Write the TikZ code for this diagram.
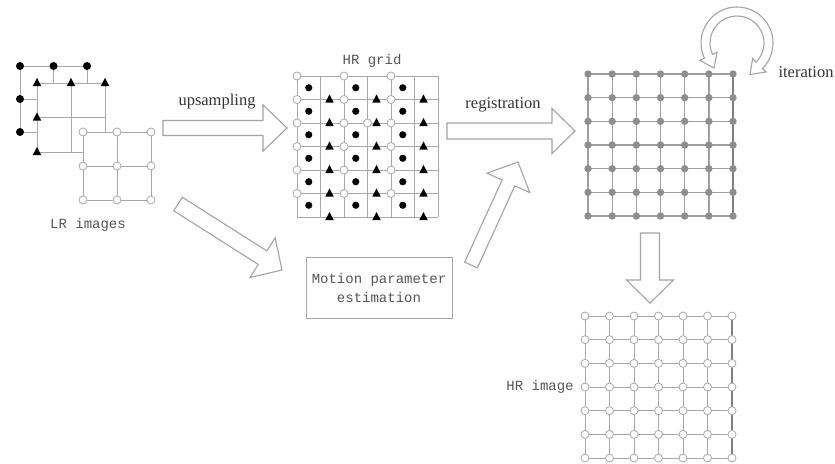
\documentclass[tikz,border=0pt]{standalone}
\usepackage{fontspec}
\setmainfont{Liberation Serif}
\newfontfamily\monofont{Liberation Mono}
\usetikzlibrary{calc}
\definecolor{gridgray}{HTML}{A8A8A8}
\definecolor{arrowgray}{HTML}{A4A4A4}
\definecolor{dotgray}{HTML}{8E8E8E}
\definecolor{rgline}{HTML}{A0A0A0}
\definecolor{txt}{HTML}{333333}
\definecolor{monotxt}{HTML}{555555}

\newcommand\sqgrid[6]{% x0,y0,n,dx,dy,style
  \fill[white] (#1,#2) rectangle ++(#3*#4,#3*#5);
  \foreach \gi in {0,...,#3}{%
    \draw[#6] (#1+\gi*#4,#2) -- ++(0,#3*#5);
    \draw[#6] (#1,#2+\gi*#5) -- ++(#3*#4,0);
  }}

\newcommand\fatarrow[5]{% tail, tip, body half, head half, head length
  \pgfpointdiff{\pgfpointanchor{#1}{center}}{\pgfpointanchor{#2}{center}}%
  \pgfgetlastxy{\fdx}{\fdy}%
  \pgfmathsetmacro\flen{veclen(\fdx,\fdy)}%
  \pgfmathsetmacro\fang{atan2(\fdy,\fdx)}%
  \pgfmathsetmacro\fneck{\flen-#5}%
  \begin{scope}[shift={(#1)},rotate=\fang,x=1pt,y=1pt]
    \draw[fatarrow] (0,-#3) -- (\fneck,-#3) -- (\fneck,-#4) -- (\flen,0)
      -- (\fneck,#4) -- (\fneck,#3) -- (0,#3) -- cycle;
  \end{scope}}

\begin{document}
\begin{tikzpicture}[x=1pt,y=-1pt,
  gridline/.style={draw=gridgray,line width=0.9pt},
  rgridline/.style={draw=rgline,line width=1.3pt},
  fatarrow/.style={draw=arrowgray,line width=1.1pt,fill=white,line join=miter},
  opendot/.style={draw=gridgray,fill=white,line width=0.8pt},
  lbl/.style={text=txt,font=\fontsize{16.5}{18}\selectfont,inner sep=0pt},
  mlbl/.style={text=monotxt,font=\monofont\fontsize{14}{19}\selectfont,inner sep=0pt},
  tri/.pic={\fill[black] (-4.2,3) -- (4.2,3) -- (0,-5) -- cycle;}]

\useasboundingbox (0,0) rectangle (835,463);
\fill[white] (0,0) rectangle (835,463);

% ---------- LR images ----------
\sqgrid{20}{66}{2}{33.5}{33}{gridline}
\foreach \p in {(20,66),(53.5,66),(87,66),(20,99),(20,132)}
  \fill[black] \p circle[radius=4];
\sqgrid{37}{83}{2}{34}{34.5}{gridline}
\foreach \p in {(37,83),(71,83),(105,83),(37,117.5),(37,152)}
  \pic at \p {tri};
\sqgrid{83}{132}{2}{34}{34}{gridline}
\foreach \i in {0,1,2}{\foreach \j in {0,1,2}{
  \draw[opendot] (83+\i*34,132+\j*34) circle[radius=4];}}
\node[mlbl] (lrlabel) at (88,225) {LR images};

% ---------- HR grid ----------
\node[mlbl] (hrgridlabel) at (372,61) {HR grid};
\sqgrid{297}{76}{6}{23.5}{23.5}{gridline}
\foreach \c in {0,2,4}{\foreach \r in {0,...,5}{
  \draw[opendot] (297+\c*23.5,76+\r*23.5) circle[radius=4];
  \fill[black] (297+\c*23.5+11.75,76+\r*23.5+11.75) circle[radius=3.6];}}
\draw[opendot] (297+3*23.5,76+2*23.5) circle[radius=4];
\foreach \c in {1,3,5}{\foreach \r in {1,...,6}{
  \pic at (297+\c*23.5+9,76+\r*23.5) {tri};}}

% ---------- registered grid ----------
\foreach \i in {0,...,6}{
  \draw[rgridline] (588+\i*24.17,74) -- (588+\i*24.17,216);
  \draw[rgridline] (588,74+\i*23.67) -- (733,74+\i*23.67);}
\draw[draw=gray,line width=1.5pt] (733,74) -- (733,216);
\foreach \i in {0,...,6}{\foreach \j in {0,...,6}{
  \fill[dotgray] (588+\i*24.17,74+\j*23.67) circle[radius=3.7];}}

% ---------- HR image ----------
\foreach \i in {0,...,6}{
  \draw[gridline] (585+\i*24.5,316) -- (585+\i*24.5,458);
  \draw[gridline] (585,316+\i*23.67) -- (732,316+\i*23.67);}
\draw[draw=gray,line width=1.2pt] (732,316) -- (732,458);
\foreach \i in {0,...,6}{\foreach \j in {0,...,6}{
  \draw[opendot] (585+\i*24.5,316+\j*23.67) circle[radius=4];}}
\node[mlbl] (hrimagelabel) at (540,387) {HR image};

% ---------- motion box ----------
\node[draw=gridgray,line width=0.9pt,minimum width=146,minimum height=61,
  align=center,mlbl,inner sep=0pt] (motion) at (379,287.5)
  {Motion parameter\\estimation};

% ---------- arrows ----------
\coordinate (upT) at (163,128);  \coordinate (upH) at (287,128);
\fatarrow{upT}{upH}{7.5}{23}{24}
\node[lbl] (uplabel) at (217,102) {upsampling};

\coordinate (regT) at (447,131); \coordinate (regH) at (575,131);
\fatarrow{regT}{regH}{8}{22.5}{23}
\node[lbl] (reglabel) at (503,105) {registration};

\coordinate (mT) at (178,204); \coordinate (mH) at (282,270);
\fatarrow{mT}{mH}{8}{23.5}{23}

\coordinate (rT) at (471,265); \coordinate (rH) at (518,162);
\fatarrow{rT}{rH}{7}{23.5}{23}

\coordinate (dT) at (650,233); \coordinate (dH) at (650,303);
\fatarrow{dT}{dH}{9.5}{23.5}{23}

% ---------- iteration arrow ----------
\coordinate (iterC) at (737,43);
\begin{scope}[shift={(iterC)},x=1pt,y=1pt]
  \draw[fatarrow] (-45:36) arc[start angle=-45,end angle=205,radius=36]
    -- (205:41) -- ([shift={(295:13)}]205:31.5) -- (205:22) -- (205:27)
    arc[start angle=205,end angle=-45,radius=27]
    -- (-45:22) -- ([shift={(-135:13)}]-45:31.5) -- (-45:41) -- cycle;
\end{scope}
\node[lbl] (iterlabel) at (806,72) {iteration};
\end{tikzpicture}
\end{document}
